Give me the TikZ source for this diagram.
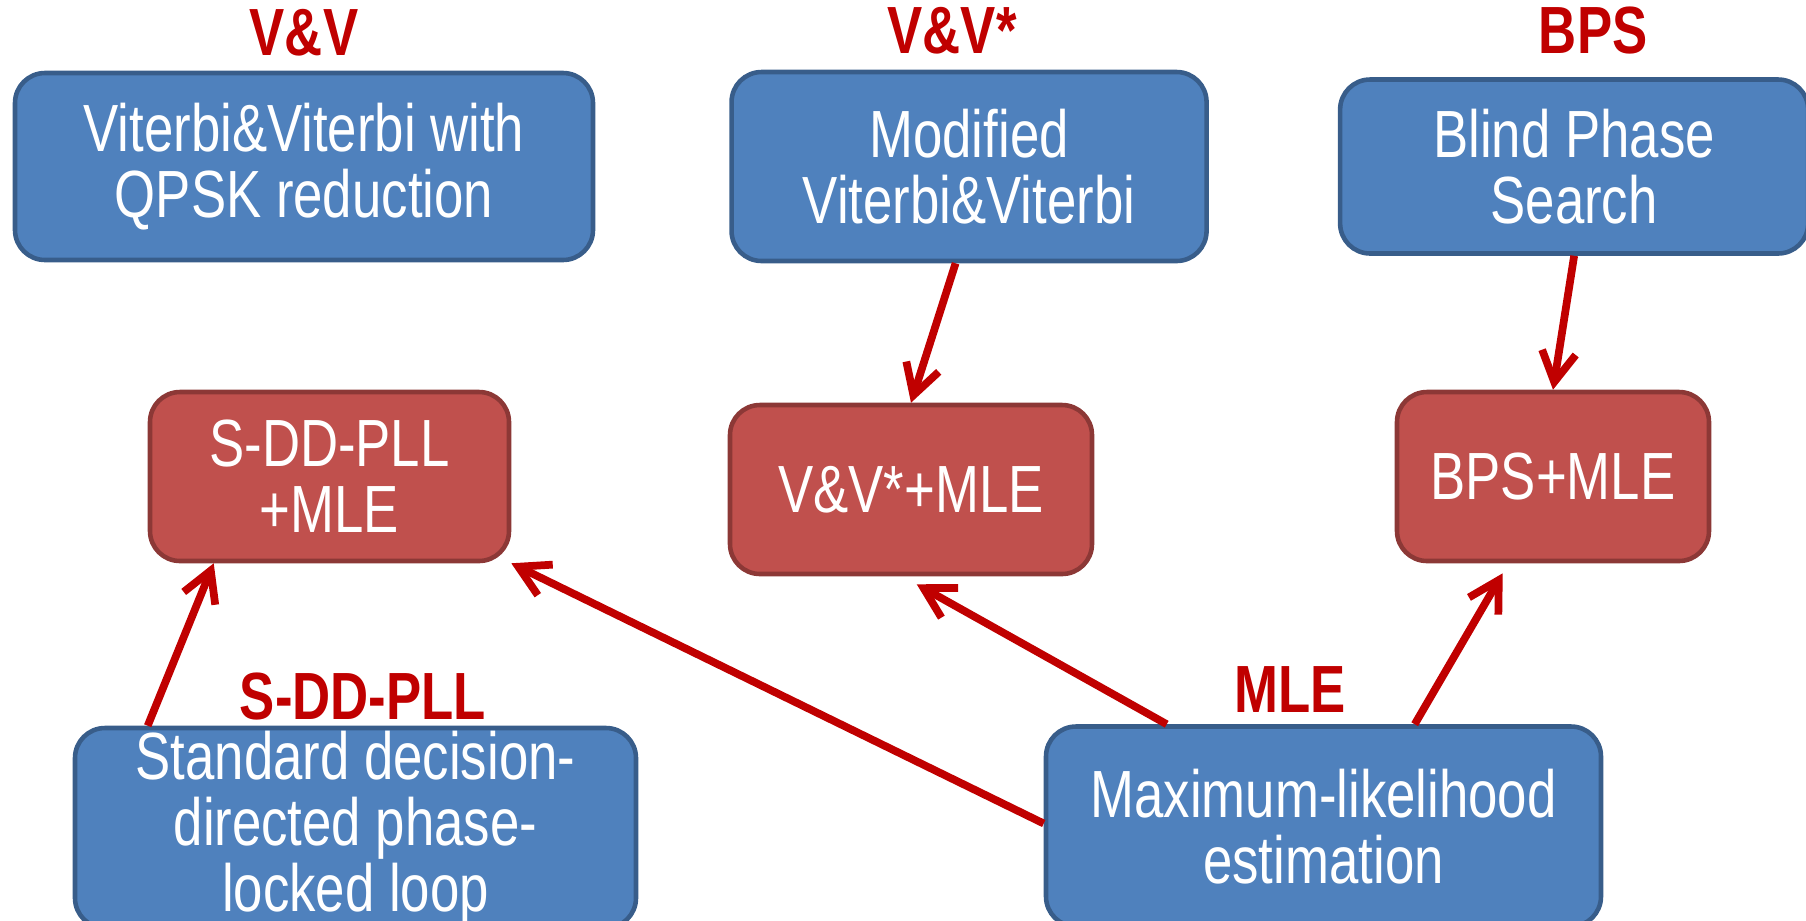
\documentclass[tikz,border=0pt]{standalone}
\usepackage{fontspec}
\setsansfont{Liberation Sans}[FakeStretch=0.79]
\usetikzlibrary{positioning,calc,arrows.meta}
\definecolor{blkFill}{RGB}{79,129,189}
\definecolor{blkEdge}{RGB}{56,93,138}
\definecolor{mixFill}{RGB}{192,80,77}
\definecolor{mixEdge}{RGB}{140,56,54}
\definecolor{arrRed}{RGB}{192,0,0}

\begin{document}
\begin{tikzpicture}[
  font=\sffamily\fontsize{19}{18.8}\selectfont,
  algo/.style={draw=blkEdge,fill=blkFill,rounded corners=3mm,line width=1.3pt,
               align=center,text=white,inner sep=0pt},
  combo/.style={algo,draw=mixEdge,fill=mixFill},
  tag/.style={font=\sffamily\bfseries\fontsize{19}{18.8}\selectfont,text=arrRed,inner sep=0pt},
  feed/.style={draw=arrRed,line width=2.2pt,-{Straight Barb[length=3mm,width=3.4mm]}}
]
\useasboundingbox (0,0) rectangle (18.06,-9.2);

% ==========  ROW A: stand-alone estimators (top)  ==========
\node[algo,minimum width=57.8mm,minimum height=18.7mm] (vv) at (3.04,-1.665)
  {Viterbi\&Viterbi with\\QPSK reduction};
\node[algo,minimum width=47.5mm,minimum height=18.9mm,right=13.4mm of vv] (vvs)
  {Modified\\Viterbi\&Viterbi};
\node[algo,minimum width=46.8mm,minimum height=17.4mm,right=12.9mm of vvs] (bps)
  {Blind Phase\\Search};

\node[tag,above=1.4mm of vv] (vvTag) {V\&V};
\node[tag,above=1.5mm of vvs,xshift=-1.7mm] (vvsTag) {V\&V*};
\node[tag,above=2.2mm of bps,xshift=1.9mm] (bpsTag) {BPS};

% ==========  ROW B: combined schemes (middle)  ==========
\node[combo,minimum width=35.9mm,minimum height=16.9mm] (sddmle) at (3.295,-4.765)
  {S-DD-PLL\\+MLE};
\node[combo,minimum width=36.2mm,minimum height=16.9mm] (vvmle) at (9.11,-4.895)
  {V\&V*+MLE};
\node[combo,minimum width=31.2mm,minimum height=16.9mm] (bpsmle) at (15.53,-4.765)
  {BPS+MLE};

% ==========  ROW C: PLL and ML estimator (bottom, cut by the frame)  ==========
\node[algo,minimum width=56.1mm,minimum height=20mm] (std) at (3.555,-8.28)
  {Standard decision-\\directed phase-\\locked loop};
\node[algo,minimum width=55.5mm,minimum height=20mm] (mle) at (13.235,-8.265)
  {Maximum-likelihood\\estimation};

\node[tag,above=0.5mm of std,xshift=0.75mm] (stdTag) {S-DD-PLL};
\node[tag,above=1.1mm of mle,xshift=-3.35mm] (mleTag) {MLE};

% ==========  Feeds into the combined schemes  ==========
\draw[feed] ([xshift=-1.35mm]vvs.south) -- (vvmle.north);
\draw[feed] (bps.south) -- (bpsmle.north);

\draw[feed] ([xshift=7.5mm]std.north west) -- ([xshift=6.6mm]sddmle.south west);
\draw[feed] ([yshift=0.3mm]mle.west) -- (sddmle.south east);
\draw[feed] ([xshift=12.3mm]mle.north west) -- ([xshift=18.9mm,yshift=-0.8mm]vvmle.south west);
\draw[feed] ([xshift=37.1mm]mle.north west) -- ([xshift=10.8mm,yshift=-1mm]bpsmle.south west);

\end{tikzpicture}
\end{document}
